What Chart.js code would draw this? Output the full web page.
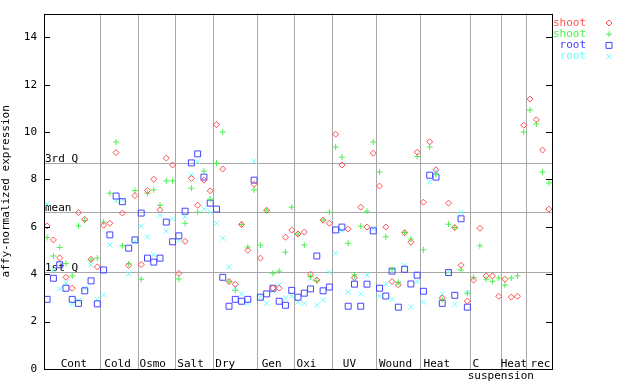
<!DOCTYPE html>
<html>
<head>
<meta charset="utf-8">
<script src="https://cdn.jsdelivr.net/npm/chart.js@4.4.0/dist/chart.umd.min.js"></script>
<style>
  html, body { margin: 0; padding: 0; background: #fff; }
  canvas { display: block; }
</style>
</head>
<body>
<canvas id="chart" width="640" height="384"></canvas>
<script>
// one value per sample, 81 samples in order of the groups below
const shootRed = [
  6.04, 5.45, 4.69, 3.87, 3.41, 6.60, 6.32, 4.63, 4.31,
  6.07, 6.15, 9.13, 6.58, 4.37, 7.32,
  4.41, 7.53, 8.01, 6.72, 8.90, 8.61,
  4.04, 5.39, 8.04, 6.91, 7.97, 7.52,
  10.31, 8.44, 3.69, 3.58, 6.10, 5.01, 7.80,
  4.68, 6.70, 3.41, 3.41, 5.56, 5.86,
  5.70, 5.78, 4.00, 3.76, 6.28, 6.15,
  9.91, 8.61, 5.91, 3.85, 6.83, 5.99, 9.11,
  7.72, 5.99, 3.69, 3.55, 5.75, 5.35, 9.15,
  7.04, 9.59, 8.41, 3.00, 7.00, 5.97, 4.38, 2.87,
  3.75, 5.94, 3.93, 3.93, 3.07,
  3.79, 3.03, 3.07, 10.29,
  11.39, 10.52, 9.24, 6.75
];
const shootGreen = [
  5.55, 4.77, 5.13, 4.45, 3.93, 6.04, 6.27, 4.60, 4.68,
  6.20, 7.42, 9.58, 5.20, 4.44, 7.53,
  3.79, 7.42, 7.56, 6.91, 7.94, 7.94,
  3.80, 6.15, 7.63, 6.62, 8.35, 7.17,
  8.69, 10.00, 3.69, 3.32, 6.10, 5.15, 7.56,
  5.23, 6.70, 4.04, 4.13, 4.93, 6.83,
  5.69, 5.23, 3.90, 3.72, 6.28, 6.62,
  9.37, 8.94, 5.31, 3.97, 6.03, 6.66, 9.58,
  8.31, 5.58, 4.20, 3.66, 5.76, 5.49, 8.97,
  5.03, 9.37, 8.20, 2.92, 6.11, 5.97, 4.18, 3.20,
  3.87, 5.20, 3.79, 3.70, 3.84,
  3.54, 3.84, 3.93, 10.00,
  10.93, 10.34, 8.31, 7.85
];
const rootBlue = [
  2.94, 3.83, 4.40, 3.41, 2.94, 2.77, 3.30, 3.72, 2.75,
  4.18, 5.66, 7.30, 7.06, 5.10, 5.45,
  6.58, 4.68, 4.51, 4.68, 6.20, 5.37,
  5.62, 6.66, 8.70, 9.08, 8.10, 7.00,
  6.75, 3.87, 2.65, 2.94, 2.86, 2.94, 7.97,
  3.03, 3.17, 3.41, 2.86, 2.69, 3.32,
  3.03, 3.20, 3.38, 4.77, 3.30, 3.46,
  5.87, 5.99, 2.65, 3.58, 2.65, 3.58, 5.83,
  3.41, 3.08, 4.13, 2.61, 4.21, 3.59, 3.96,
  3.28, 8.18, 8.10, 2.77, 4.07, 3.11, 6.34, 2.61,
  null, null, null, null, null,
  null, null, null, null,
  null, null, null, null
];
const rootCyan = [
  6.96, 4.18, 3.38, 3.62, 2.75, 2.90, 3.41, 4.39, 2.94,
  3.13, 5.24, 7.10, 7.14, 4.01, 5.38,
  6.03, 5.58, 4.82, 6.49, 5.82, 6.34,
  5.44, 6.43, 8.20, 8.75, 6.75, 6.62,
  6.15, 5.52, 4.30, 3.45, 3.17, 2.77, 8.77,
  3.03, 2.77, 3.30, 3.55, 2.99, 3.08,
  2.82, 2.77, 3.83, 2.70, 2.92, 4.09,
  4.89, 5.84, 3.24, 3.76, 3.17, 3.97, 5.93,
  3.08, 3.59, 2.94, 3.60, 4.37, 2.61, 3.69,
  2.82, 7.89, 8.35, 3.17, 4.10, 2.73, 6.62, 3.22,
  null, null, null, null, null,
  null, null, null, null,
  null, null, null, null
];

const groupEdges = [0, 9, 15, 21, 27, 34, 40, 46, 53, 60, 68, 73, 77, 81];
const groupLabels = ['Cont', 'Cold', 'Osmo', 'Salt', 'Dry', 'Gen', 'Oxi', 'UV', 'Wound', 'Heat', 'C', 'suspension', 'Heat', 'rec'];
const groupLabelAt = [4.77, 11.72, 17.34, 23.37, 28.9, 36.3, 41.85, 48.7, 56.04, 62.63, 68.85, 72.84, 74.94, 79.17];
const groupLabelRow = [0, 0, 0, 0, 0, 0, 0, 0, 0, 0, 0, 1, 0, 0];

const yTicks = [0, 2, 4, 6, 8, 10, 12, 14];
const statValues = [4.08, 6.62, 8.69];
const statLabels = ['1st Q', 'mean', '3rd Q'];

const seriesNames = ['shoot', 'shoot', 'root', 'root'];
const seriesColors = ['#ff5050', '#4cf04c', '#4444ff', '#66ffff'];
const seriesStyles = ['rectRot', 'cross', 'rect', 'crossRot'];
const seriesRadius = [3, 3, 4.2, 3.6];

const MONO = '"DejaVu Sans Mono", "Liberation Mono", monospace';

function toPoints(values) {
    const pts = [];
    values.forEach((v, i) => {
        if (v !== null) pts.push({ x: i + 0.5, y: v });
    });
    return pts;
}

const allSeries = [shootRed, shootGreen, rootBlue, rootCyan];
const datasets = allSeries.map((vals, k) => ({
    label: seriesNames[k],
    data: toPoints(vals),
    pointStyle: seriesStyles[k],
    pointRadius: seriesRadius[k],
    pointBorderColor: seriesColors[k],
    pointBackgroundColor: 'rgba(0,0,0,0)',
    pointBorderWidth: 1,
    showLine: false
}));

const decorPlugin = {
    id: 'decor',
    beforeDatasetsDraw(chart) {
        const { ctx, chartArea: a, scales: { y } } = chart;
        ctx.save();
        // quartile / mean lines
        ctx.strokeStyle = '#a8a8a8';
        ctx.lineWidth = 1;
        ctx.font = '11px ' + MONO;
        ctx.fillStyle = '#000';
        ctx.textAlign = 'left';
        ctx.textBaseline = 'alphabetic';
        statValues.forEach((v, i) => {
            const py = Math.round(y.getPixelForValue(v)) + 0.5;
            ctx.beginPath();
            ctx.moveTo(a.left, py);
            ctx.lineTo(a.right, py);
            ctx.stroke();
            ctx.fillText(statLabels[i], a.left + 1, py - 2);
        });
        ctx.restore();
    },
    afterDatasetsDraw(chart) {
        const { ctx, chartArea: a, scales: { x, y } } = chart;
        ctx.save();
        // frame
        ctx.strokeStyle = '#000';
        ctx.lineWidth = 1;
        ctx.strokeRect(Math.round(a.left) + 0.5, Math.round(a.top) + 0.5,
            Math.round(a.right - a.left), Math.round(a.bottom - a.top));
        // inward ticks on both sides
        yTicks.forEach(v => {
            const py = Math.round(y.getPixelForValue(v)) + 0.5;
            ctx.beginPath();
            ctx.moveTo(a.left, py);
            ctx.lineTo(a.left + 6, py);
            ctx.moveTo(a.right - 6, py);
            ctx.lineTo(a.right, py);
            ctx.stroke();
        });
        // group labels
        ctx.font = '11px ' + MONO;
        ctx.fillStyle = '#000';
        ctx.textAlign = 'center';
        ctx.textBaseline = 'middle';
        groupLabels.forEach((t, i) => {
            const px = x.getPixelForValue(groupLabelAt[i]);
            const py = a.bottom - 5 + groupLabelRow[i] * 12;
            ctx.fillText(t, px, py);
        });
        ctx.restore();
    },
    afterDraw(chart) {
        const { ctx } = chart;
        ctx.save();
        ctx.font = '11px ' + MONO;
        ctx.textAlign = 'right';
        ctx.textBaseline = 'middle';
        datasets.forEach((ds, k) => {
            const py = 23 + k * 11.2;
            ctx.fillStyle = seriesColors[k];
            ctx.fillText(ds.label, 586, py);
            ctx.strokeStyle = seriesColors[k];
            ctx.fillStyle = 'rgba(0,0,0,0)';
            ctx.lineWidth = 1;
            Chart.helpers.drawPoint(ctx, {
                pointStyle: seriesStyles[k],
                radius: seriesRadius[k],
                rotation: 0,
                borderWidth: 1
            }, 609, py);
        });
        ctx.restore();
    }
};

new Chart(document.getElementById('chart'), {
    type: 'scatter',
    data: { datasets },
    options: {
        responsive: false,
        animation: false,
        layout: { padding: { top: 13, right: 88, left: 0, bottom: 0 } },
        plugins: {
            legend: { display: false },
            tooltip: { enabled: false }
        },
        scales: {
            x: {
                type: 'linear',
                min: 0,
                max: 81,
                afterBuildTicks: s => { s.ticks = groupEdges.map(v => ({ value: v })); },
                afterFit: s => { s.height = 15; },
                ticks: { display: false },
                grid: { color: '#a8a8a8', lineWidth: 1, drawTicks: false },
                border: { display: false }
            },
            y: {
                min: 0,
                max: 15,
                afterBuildTicks: s => { s.ticks = yTicks.map(v => ({ value: v })); },
                afterFit: s => { s.width = 44; },
                ticks: {
                    color: '#000',
                    padding: 7,
                    font: { family: MONO, size: 11 }
                },
                grid: { display: false, drawTicks: false },
                border: { display: false },
                title: {
                    display: true,
                    text: 'affy-normalized expression',
                    color: '#000',
                    padding: { top: 0, bottom: 0 },
                    font: { family: MONO, size: 11 }
                }
            }
        }
    },
    plugins: [decorPlugin]
});
</script>
</body>
</html>
